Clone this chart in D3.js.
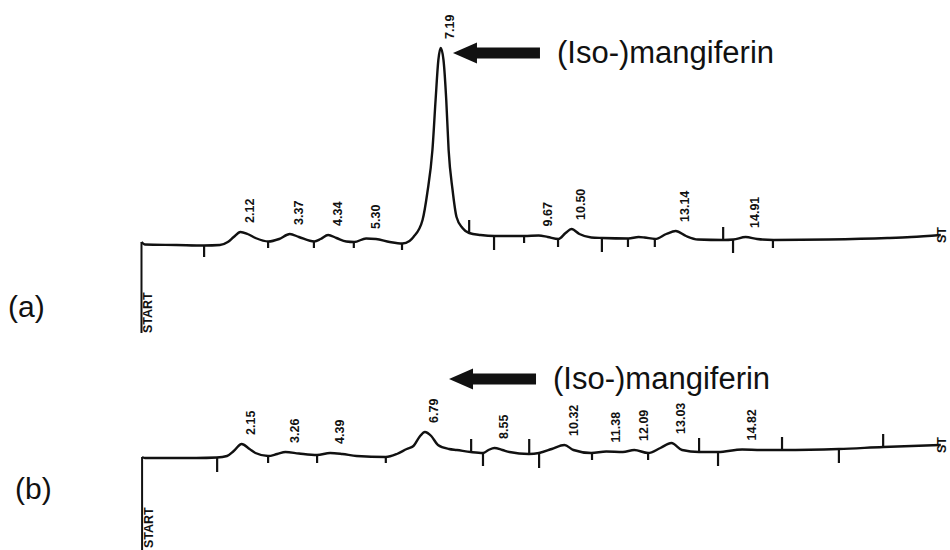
<head>
    <meta charset="utf-8" />
    <script src="https://d3js.org/d3.v7.min.js"></script>
</head>
<style>
    body { margin: 0; background: #fff; }
    text { font-family: "Liberation Sans", Arial, sans-serif; fill: #111; }
    .peak { font-weight: bold; font-size: 12.5px; }
</style>
<body>

</body>
<script>
// retention time (min) vs detector signal
var traceA = [[-0.385,3],[-0.3,0.5],[0.5,0],[1.2,-0.5],[1.6,0],[1.8,3],[1.95,8],[2.12,13],[2.3,11],[2.5,7],
    [2.83,3.5],[3.1,6],[3.37,11],[3.6,8],[3.99,3.5],[4.15,6],[4.34,10],[4.55,7],[4.8,3.5],[5.0,3],
    [5.3,6.5],[5.55,6],[5.9,3],[6.22,1.5],[6.4,4],[6.5,8],[6.73,25],[6.85,52],[6.98,95],[7.06,145],
    [7.13,185],[7.19,197],[7.26,185],[7.33,145],[7.39,95],[7.49,55],[7.59,28],[7.74,17],[7.91,12],[8.2,10],
    [8.55,9],[9.3,9],[9.67,9.5],[9.9,8],[10.17,6],[10.35,12],[10.5,16],[10.7,11],[11.0,7.5],[11.28,7],
    [11.94,6.5],[12.2,8],[12.35,7.5],[12.62,6],[12.9,11],[13.14,14],[13.4,9],[13.7,5.5],[14.35,5],[14.6,5.5],
    [14.91,8],[15.2,6],[15.61,5],[17.0,5.5],[18.5,7],[19.1,8],[19.85,10]];

var traceB = [[-0.37,1],[-0.3,0],[1.0,0],[1.52,0.5],[1.78,2],[1.95,7],[2.15,14],[2.35,9],[2.5,5],[2.82,2],
    [3.05,4],[3.26,6],[3.6,4.5],[4.06,3],[4.39,5],[4.7,4],[5.06,2],[5.8,1],[6.08,4],[6.33,9],
    [6.5,12],[6.65,21],[6.79,26],[6.95,22],[7.12,13],[7.4,9],[7.6,8],[7.95,6],[8.26,5],[8.4,8],
    [8.55,10],[8.75,8],[8.93,6],[9.42,4],[9.68,5],[10.0,9],[10.32,13],[10.55,8],[11.0,5],[11.38,6.5],
    [11.8,6],[12.09,8],[12.44,5],[12.75,10],[13.03,15],[13.3,8],[13.73,6],[14.21,6],[14.82,8.5],[15.3,8],
    [15.83,8],[17.27,9],[18.39,11],[19.85,13]];

// labelled peaks: retention time and apex signal
var peakTimesA = [2.12, 3.37, 4.34, 5.30, 7.19, 9.67, 10.50, 13.14, 14.91];
var peakHeightsA = [13, 11, 10, 7, 197, 9.5, 16, 14, 8];
var peakTimesB = [2.15, 3.26, 4.39, 6.79, 8.55, 10.32, 11.38, 12.09, 13.03, 14.82];
var peakHeightsB = [14, 6, 5, 26, 10, 13, 6.5, 8, 15, 8.5];

// integration event marks: time, signal at the trace, signal at the mark end
var ticksA = [[1.2,0,-12],[2.82,3.5,-3],[3.98,3.5,-3],[4.99,3,-3],[6.21,1.5,-5],[7.91,12,25],[8.54,9,-5],
    [9.3,9,2],[10.16,6,-2],[11.27,7,-7],[11.93,6.5,-2],[12.61,6,-2],[14.34,5,18],[14.59,5,-8],[15.6,5,-3]];
var ticksB = [[1.53,0.5,-14],[2.82,2,-5],[4.06,3,-5],[5.8,1,-5],[7.96,6,19],[8.26,5,-8],[9.43,4,19],
    [9.68,5,-10],[11.02,5,-2],[12.44,5,-2],[13.73,6,20],[14.21,6,-8],[15.83,8,21],[17.27,9,-5],[18.39,11,24]];

var panels = [
    {name: "(a)", trace: traceA, times: peakTimesA, heights: peakHeightsA, ticks: ticksA,
     base: 245, startDrop: -88, startText: 88, arrow: [7.5, 192], nameX: 8, nameDy: 72},
    {name: "(b)", trace: traceB, times: peakTimesB, heights: peakHeightsB, ticks: ticksB,
     base: 458, startDrop: -95, startText: 90, arrow: [7.4, 79], nameX: 15, nameDy: 41}
];

var x = d3.scaleLinear().domain([-0.4, 19.9]).range([140.9, 942.8]);

var svg = d3.select("body").append("svg")
    .attr("width", 950)
    .attr("height", 550);

panels.forEach(function (p) {
    var y = d3.scaleLinear().domain([0, 200]).range([p.base, p.base - 200]);
    var g = svg.append("g");
    var t0 = p.trace[0][0];
    var last = p.trace[p.trace.length - 1];

    // start marker
    g.append("line")
        .attr("x1", x(t0)).attr("x2", x(t0))
        .attr("y1", y(p.trace[0][1])).attr("y2", y(p.startDrop))
        .attr("stroke", "#111").attr("stroke-width", 2);
    g.append("text")
        .attr("class", "peak")
        .attr("transform", "translate(" + (x(t0) + 11) + "," + (y(0) + p.startText) + ") rotate(-90)")
        .text("START");

    var line = d3.line()
        .x(function (d) { return x(d[0]); })
        .y(function (d) { return y(d[1]); })
        .curve(d3.curveMonotoneX);

    g.append("path")
        .datum(p.trace)
        .attr("d", line)
        .attr("fill", "none")
        .attr("stroke", "#111")
        .attr("stroke-width", 2.4)
        .attr("stroke-linejoin", "round");

    g.selectAll("line.tick")
        .data(p.ticks)
        .enter()
        .append("line")
        .attr("class", "tick")
        .attr("x1", function (d) { return x(d[0]); })
        .attr("x2", function (d) { return x(d[0]); })
        .attr("y1", function (d) { return y(d[1]); })
        .attr("y2", function (d) { return y(d[2]); })
        .attr("stroke", "#111")
        .attr("stroke-width", 2.2);

    g.selectAll("text.lbl")
        .data(p.times)
        .enter()
        .append("text")
        .attr("class", "peak lbl")
        .attr("transform", function (d, i) {
            return "translate(" + (x(d) + 13.5) + "," + (y(p.heights[i]) - 9) + ") rotate(-90)";
        })
        .text(function (d) { return d.toFixed(2); });

    g.append("text")
        .attr("class", "peak")
        .attr("transform", "translate(" + (x(last[0]) + 5) + "," + (y(last[1]) + 8) + ") rotate(-90)")
        .text("ST");

    // arrow + compound name
    var ax = x(p.arrow[0]), ay = y(p.arrow[1]);
    g.append("path")
        .attr("d", d3.line()([[0,0],[24,-10.5],[24,-5.5],[87,-5.5],[87,5.5],[24,5.5],[24,10.5]]) + "Z")
        .attr("transform", "translate(" + ax + "," + ay + ")")
        .attr("fill", "#111");
    g.append("text")
        .attr("x", ax + 104)
        .attr("y", ay + 10)
        .style("font-size", "31px")
        .text("(Iso-)mangiferin");

    g.append("text")
        .attr("x", p.nameX)
        .attr("y", y(0) + p.nameDy)
        .style("font-size", "30px")
        .text(p.name);
});
</script>
